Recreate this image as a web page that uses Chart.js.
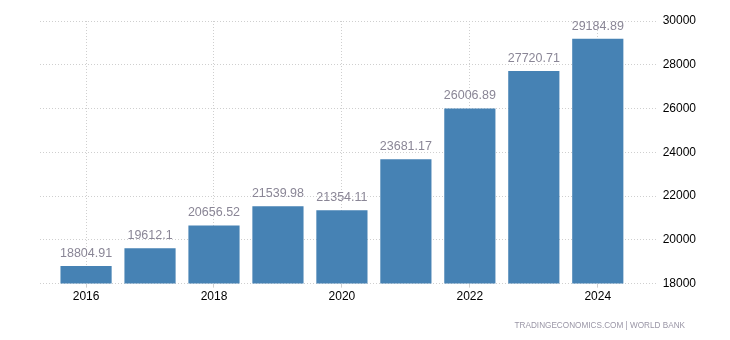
<!DOCTYPE html>
<html>
<head>
<meta charset="utf-8">
<script src="https://cdn.jsdelivr.net/npm/chart.js@4/dist/chart.umd.min.js"></script>
<style>
html,body{margin:0;padding:0;background:#fff;}
#wrap{width:730px;height:340px;position:relative;}
</style>
</head>
<body>
<div id="wrap"><canvas id="c" width="730" height="340"></canvas></div>
<script>
const years = [2016, 2017, 2018, 2019, 2020, 2021, 2022, 2023, 2024];
const values = [18804.91, 19612.1, 20656.52, 21539.98, 21354.11, 23681.17, 26006.89, 27720.71, 29184.89];
const valueLabels = ['18804.91', '19612.1', '20656.52', '21539.98', '21354.11', '23681.17', '26006.89', '27720.71', '29184.89'];
const xTickYears = [2016, 2018, 2020, 2022, 2024];
const yTicks = [18000, 20000, 22000, 24000, 26000, 28000, 30000];
const sourceText = 'TRADINGECONOMICS.COM | WORLD BANK';

const FONT = '"Liberation Sans", Arial, sans-serif';

const labelPlugin = {
  id: 'valueLabels',
  afterDatasetsDraw(chart) {
    const ctx = chart.ctx;
    const meta = chart.getDatasetMeta(0);
    ctx.save();
    ctx.font = '12.5px ' + FONT;
    ctx.fillStyle = '#8a8696';
    ctx.textAlign = 'center';
    ctx.textBaseline = 'alphabetic';
    meta.data.forEach((bar, i) => {
      ctx.fillText(valueLabels[i], bar.x, bar.y - 9);
    });
    ctx.restore();
  }
};

const sourcePlugin = {
  id: 'source',
  afterDraw(chart) {
    const ctx = chart.ctx;
    ctx.save();
    ctx.font = '8.2px ' + FONT;
    ctx.fillStyle = '#9a96a6';
    ctx.textAlign = 'right';
    ctx.textBaseline = 'alphabetic';
    ctx.fillText(sourceText, 685, 328);
    ctx.restore();
  }
};

new Chart(document.getElementById('c'), {
  type: 'bar',
  data: {
    datasets: [{
      data: years.map((y, i) => ({x: y, y: values[i]})),
      backgroundColor: '#4682b4',
      borderWidth: 0,
      barPercentage: 0.8,
      categoryPercentage: 1.0
    }]
  },
  options: {
    responsive: false,
    animation: false,
    devicePixelRatio: 1,
    layout: {padding: {left: 40, right: 28, top: 21, bottom: 34}},
    plugins: {legend: {display: false}, tooltip: {enabled: false}},
    scales: {
      x: {
        type: 'linear',
        offset: false,
        min: 2015.28,
        max: 2024.92,
        afterBuildTicks(scale) { scale.ticks = xTickYears.map(v => ({value: v})); },
        grid: {color: '#cfcfcf', lineWidth: 1, drawTicks: true, tickLength: 4, offset: false},
        border: {display: false, dash: [1, 2]},
        ticks: {color: '#000', font: {size: 12, family: FONT}, padding: 2, callback: v => String(v), autoSkip: false, maxRotation: 0}
      },
      y: {
        position: 'right',
        min: 18000,
        max: 30000,
        afterBuildTicks(scale) { scale.ticks = yTicks.map(v => ({value: v})); },
        grid: {color: '#cfcfcf', lineWidth: 1, drawTicks: false},
        border: {display: false, dash: [1, 2]},
        ticks: {color: '#000', font: {size: 12, family: FONT}, padding: 6, callback: v => String(v)}
      }
    }
  },
  plugins: [labelPlugin, sourcePlugin]
});
</script>
</body>
</html>
